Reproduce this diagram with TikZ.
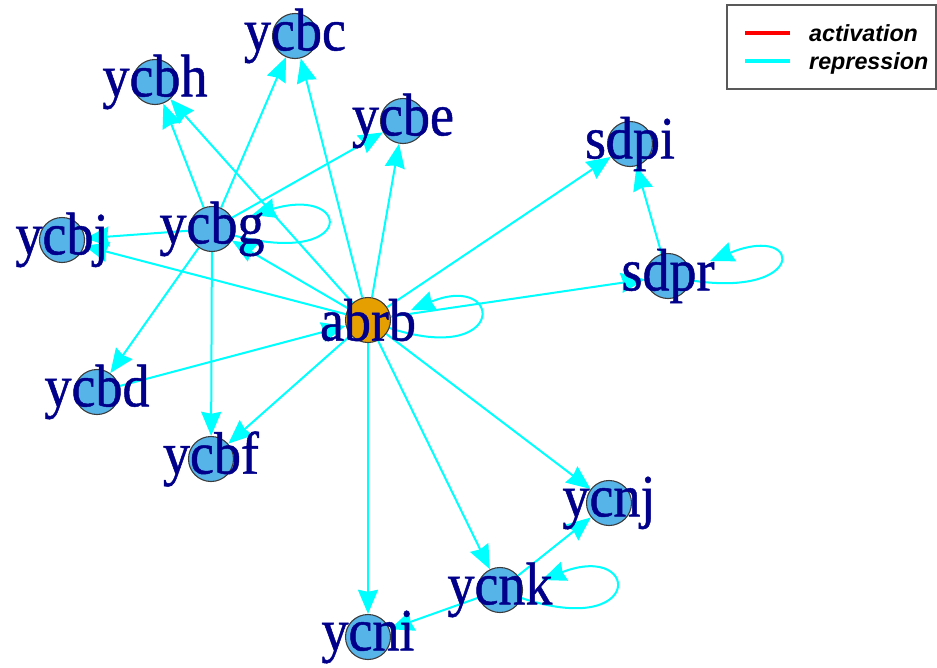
\documentclass[tikz,border=0pt]{standalone}
\usepackage{fontspec}
\setmainfont{Liberation Serif}
\newfontfamily\labfont[FakeStretch=0.9, FakeBold=0.8]{Liberation Serif}
\newfontfamily\legfont{Liberation Sans}
\usetikzlibrary{arrows.meta}
\definecolor{vblue}{HTML}{56B4E9}
\definecolor{vorange}{HTML}{E69F00}
\definecolor{labcol}{RGB}{0,0,139}
\definecolor{edgecol}{RGB}{0,255,255}
\definecolor{vborder}{RGB}{60,60,60}
\tikzset{
  vtx/.style={circle, draw=vborder, line width=1.1pt, fill=vblue, minimum size=45pt, inner sep=0pt},
  vtxo/.style={vtx, fill=vorange},
  lbl/.style={inner sep=0pt, anchor=center, text=labcol, font=\labfont\fontsize{60}{60}\selectfont},
  edge/.style={draw=edgecol, line width=2pt, -{Stealth[length=24pt, width=20pt, inset=2pt]}},
  legtxt/.style={inner sep=0pt, anchor=base west, font=\legfont\bfseries\itshape\fontsize{23.3}{24}\selectfont},
}
\begin{document}
\begin{tikzpicture}[x=1pt, y=-1pt]
\useasboundingbox (0,0) rectangle (937,667);
\path
  (295,36)  coordinate (pycbc)
  (155,82)  coordinate (pycbh)
  (403,121) coordinate (pycbe)
  (630,144) coordinate (psdpi)
  (62,240)  coordinate (pycbj)
  (212,229) coordinate (pycbg)
  (668,276) coordinate (psdpr)
  (368,320) coordinate (pabrb)
  (97,392)  coordinate (pycbd)
  (211,459) coordinate (pycbf)
  (609,503) coordinate (pycnj)
  (500,590) coordinate (pycnk)
  (368,637) coordinate (pycni);
\begin{scope}[every node/.style={circle, minimum size=46pt, inner sep=0pt}]
\node (ycbc) at (pycbc) {};
\node (ycbh) at (pycbh) {};
\node (ycbe) at (pycbe) {};
\node (sdpi) at (psdpi) {};
\node (ycbj) at (pycbj) {};
\node (ycbg) at (pycbg) {};
\node (sdpr) at (psdpr) {};
\node (abrb) at (pabrb) {};
\node (ycbd) at (pycbd) {};
\node (ycbf) at (pycbf) {};
\node (ycnj) at (pycnj) {};
\node (ycnk) at (pycnk) {};
\node (ycni) at (pycni) {};
\end{scope}
% edges
\draw[edge] (ycbg) -- (ycbh);
\draw[edge] (ycbg) -- (ycbc);
\draw[edge] (ycbg) -- (ycbe);
\draw[edge] (ycbg) -- (ycbj);
\draw[edge] (ycbg) -- (ycbd);
\draw[edge] (ycbg) -- (ycbf);
\draw[edge] (abrb) -- (ycbh);
\draw[edge] (abrb) -- (ycbc);
\draw[edge] (abrb) -- (ycbe);
\draw[edge] (abrb) -- (ycbg);
\draw[edge] (abrb) -- (ycbj);
\draw[edge] (ycbd) -- (abrb);
\draw[edge] (abrb) -- (ycbf);
\draw[edge] (abrb) -- (ycni);
\draw[edge] (abrb) -- (ycnk);
\draw[edge] (abrb) -- (ycnj);
\draw[edge] (abrb) -- (sdpi);
\draw[edge] (abrb) -- (sdpr);
\draw[edge] (sdpr) -- (sdpi);
\draw[edge] (ycnk) -- (ycnj);
\draw[edge] (ycnk) -- (ycni);
% self loops
\draw[edge] (ycbg.center) .. controls ([shift={(145,48)}]ycbg.center) and ([shift={(145,-45)}]ycbg.center) .. ([shift={(40,-14)}]ycbg.center);
\draw[edge] (abrb.center) .. controls ([shift={(140,58)}]abrb.center) and ([shift={(140,-50)}]abrb.center) .. ([shift={(43,-10)}]abrb.center);
\draw[edge] (sdpr.center) .. controls ([shift={(140,32)}]sdpr.center) and ([shift={(140,-55)}]sdpr.center) .. ([shift={(42,-15)}]sdpr.center);
\draw[edge] (ycnk.center) .. controls ([shift={(145,60)}]ycnk.center) and ([shift={(145,-50)}]ycnk.center) .. ([shift={(42,-10)}]ycnk.center);
% vertex circles
\foreach \n in {ycbc,ycbh,ycbe,sdpi,ycbj,ycbg,sdpr,ycbd,ycbf,ycnj,ycnk,ycni}
  \node[vtx] at (p\n) {};
\node[vtxo] at (pabrb) {};
% labels
\node[lbl] (lycbc) at (ycbc) {ycbc};
\node[lbl] (lycbh) at (ycbh) {ycbh};
\node[lbl] (lycbe) at (ycbe) {ycbe};
\node[lbl] (lsdpi) at (sdpi) {sdpi};
\node[lbl] (lycbj) at (ycbj) {ycbj};
\node[lbl] (lycbg) at (ycbg) {ycbg};
\node[lbl] (lsdpr) at (sdpr) {sdpr};
\node[lbl] (labrb) at (abrb) {abrb};
\node[lbl] (lycbd) at (ycbd) {ycbd};
\node[lbl] (lycbf) at (ycbf) {ycbf};
\node[lbl] (lycnj) at (ycnj) {ycnj};
\node[lbl] (lycnk) at (ycnk) {ycnk};
\node[lbl] (lycni) at (ycni) {ycni};
% legend
\node[draw=black!65, line width=1.5pt, minimum width=209pt, minimum height=84pt, anchor=north west, inner sep=0pt] (legend) at (726,4) {};
\coordinate (la1) at (745,33);
\coordinate (la2) at (790,33);
\coordinate (lr1) at (745,61);
\coordinate (lr2) at (790,61);
\draw[red, line width=4.5pt] (la1) -- (la2);
\draw[edgecol, line width=4.5pt] (lr1) -- (lr2);
\node[legtxt] (tact) at (809,41) {activation};
\node[legtxt] (trep) at (809,69) {repression};
\end{tikzpicture}
\end{document}
